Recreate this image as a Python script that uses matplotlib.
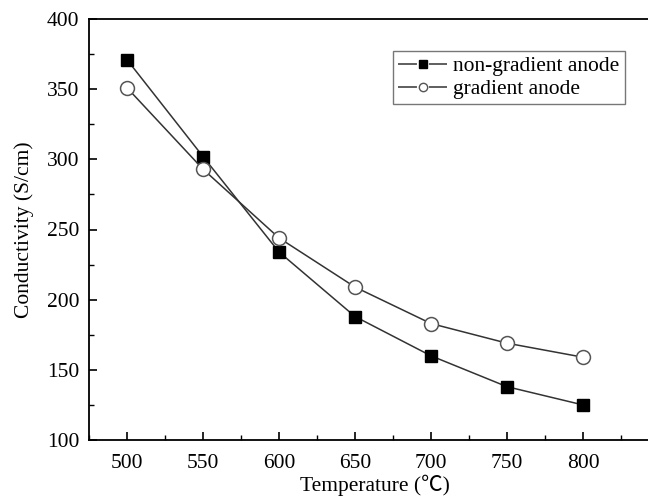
import numpy as np
import matplotlib.pyplot as plt
from matplotlib.lines import Line2D
from matplotlib.ticker import MultipleLocator

# Dane
temperature = [500, 550, 600, 650, 700, 750, 800]
non_gradient = [371, 302, 234, 188, 160, 138, 125]
gradient = [351, 293, 244, 209, 183, 169, 159]

plt.rcParams['font.family'] = ['Liberation Serif', 'Noto Sans CJK SC', 'DejaVu Sans']

W, H = 648, 501
fig = plt.figure(figsize=(W / 100, H / 100), dpi=100)
# oś wychodzi poza prawy brzeg obrazka (jak w oryginale)
ax = fig.add_axes([89 / W, 1 - 440 / H, (660 - 89) / W, (440 - 19) / H])

ax.plot(temperature, non_gradient, color='#333333', lw=1.1, marker='s', ms=9,
        mfc='black', mec='black')
ax.plot(temperature, gradient, color='#333333', lw=1.1, marker='o', ms=10,
        mfc='white', mec='#555555', mew=1.1)

ax.set_xlim(475, 850.7)
ax.set_ylim(100, 400)
ax.xaxis.set_major_locator(MultipleLocator(50))
ax.xaxis.set_minor_locator(MultipleLocator(25))
ax.yaxis.set_major_locator(MultipleLocator(50))
ax.yaxis.set_minor_locator(MultipleLocator(25))
ax.set_xticks([500, 550, 600, 650, 700, 750, 800])
ax.tick_params(which='both', direction='in', top=False, right=False, labelsize=15.5)
ax.tick_params(axis='y', pad=7)
ax.tick_params(axis='x', pad=10)
ax.tick_params(which='major', length=6, width=1.2)
ax.tick_params(which='minor', length=3.5, width=1.0)
for s in ax.spines.values():
    s.set_linewidth(1.3)
ax.spines['right'].set_visible(False)

ax.set_xlabel('Temperature (\u2103)', fontsize=15.5, labelpad=1)
ax.set_ylabel('Conductivity (S/cm)', fontsize=15.5, labelpad=9)

# legenda: linia z przerwa wokol markera
ls_gap = (0, (12.4, 7.85))
h1 = Line2D([], [], color='#333333', lw=1.1, ls=ls_gap, marker='s', ms=5.2,
            mfc='black', mec='black')
h2 = Line2D([], [], color='#333333', lw=1.1, ls=ls_gap, marker='o', ms=6,
            mfc='white', mec='#555555', mew=1.0)
leg = ax.legend([h1, h2], ['non-gradient anode', 'gradient anode'],
                loc='upper left', bbox_to_anchor=((393 - 89) / 571, 1 - (51 - 19) / 421),
                fontsize=15.5, frameon=True, fancybox=False, edgecolor='#555555',
                handlelength=2.28, borderpad=0.25, labelspacing=0.12, handletextpad=0.28,
                borderaxespad=0)
leg.get_frame().set_linewidth(1.0)

fig.savefig('out.png', dpi=100)
